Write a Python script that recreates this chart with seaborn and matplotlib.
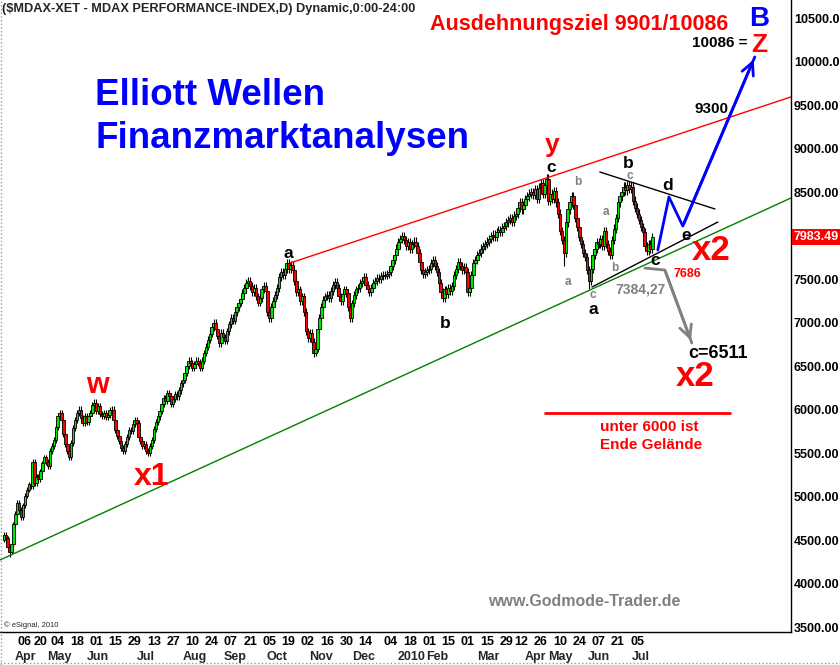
import matplotlib
matplotlib.use("Agg")
import matplotlib.pyplot as plt
import matplotlib.transforms as mtransforms
from matplotlib.lines import Line2D
import numpy as np
import pandas as pd
import seaborn as sns

# daily closes of the MDAX (20 Mar 2009 .. mid Jul 2010)
closes = [
    4560, 4520, 4420, 4360, 4450, 4680, 4800, 4930, 4850, 4760,
    4900, 5010, 5080, 5140, 5120, 5400, 5150, 5230, 5200, 5290,
    5380, 5450, 5400, 5350, 5520, 5580, 5650, 5800, 5920, 5960,
    5880, 5720, 5600, 5520, 5450, 5620, 5790, 5880, 5960, 6000,
    5900, 5850, 5920, 5860, 5930, 5960, 6050, 6080, 5980, 6040,
    5950, 5930, 5960, 5910, 5940, 5990, 6000, 5880, 5760, 5700,
    5640, 5560, 5520, 5600, 5680, 5770, 5750, 5830, 5880, 5850,
    5690, 5640, 5580, 5600, 5520, 5500, 5580, 5650, 5780, 5860,
    5920, 5980, 6060, 6130, 6100, 6190, 6150, 6060, 6120, 6180,
    6150, 6220, 6300, 6340, 6420, 6500, 6560, 6530, 6480, 6520,
    6560, 6540, 6480, 6560, 6650, 6720, 6800, 6870, 6950, 7000,
    6920, 6850, 6760, 6880, 6830, 6790, 6900, 6980, 7050, 7020,
    7120, 7180, 7230, 7270, 7340, 7400, 7460, 7480, 7420, 7350,
    7400, 7300, 7230, 7280, 7380, 7420, 7360, 7120, 7050, 7180,
    7250, 7320, 7400, 7520, 7580, 7550, 7620, 7680, 7620, 7660,
    7600, 7480, 7350, 7380, 7250, 7300, 7120, 6900, 6820, 6880,
    6780, 6650, 6700, 6920, 7050, 7180, 7260, 7300, 7320, 7280,
    7360, 7430, 7470, 7400, 7300, 7250, 7330, 7380, 7340, 7180,
    7050, 7220, 7320, 7380, 7400, 7450, 7480, 7520, 7430, 7380,
    7350, 7400, 7450, 7480, 7510, 7500, 7530, 7550, 7540, 7560,
    7580, 7650, 7720, 7780, 7850, 7920, 7960, 7990, 7950, 7880,
    7920, 7850, 7900, 7930, 7880, 7800, 7700, 7600, 7560, 7580,
    7600, 7620, 7680, 7720, 7650, 7580, 7450, 7350, 7280, 7380,
    7330, 7400, 7360, 7420, 7550, 7620, 7700, 7650, 7600, 7640,
    7580, 7350, 7400, 7550, 7680, 7720, 7780, 7800, 7850, 7880,
    7900, 7930, 7960, 7990, 8010, 7980, 8040, 8060, 8040, 8090,
    8110, 8150, 8180, 8200, 8160, 8230, 8250, 8320, 8380, 8300,
    8350, 8420, 8450, 8480, 8500, 8470, 8530, 8420, 8550, 8600,
    8480, 8580, 8650, 8400, 8480, 8420, 8510, 8380, 8250, 8050,
    7950, 7800, 8150, 8300, 8380, 8450, 8350, 8200, 8100, 7980,
    7900, 7800, 7750, 7600, 7480, 7620, 7780, 7850, 7920, 7900,
    7960, 7880, 8050, 7900, 7820, 7780, 7950, 8080, 8200, 8380,
    8450, 8500, 8560, 8520, 8580, 8540, 8560, 8400, 8320, 8250,
    8180, 8100, 8040, 7880, 7820, 7900, 7850, 7983.49,
]
first_open = 4500
last_price = 7983.49

# notable wick extremes (bar index, price)
spike_idx = [3, 161, 282, 291, 304, 324]
spike_price = [4300, 6600, 8690, 7650, 7384.27, 8620]

holidays = ["2009-04-10", "2009-04-13", "2009-05-01", "2009-12-25",
            "2010-01-01", "2010-04-02", "2010-04-05"]

day_ticks = ["2009-04-06", "2009-04-20", "2009-05-04", "2009-05-18", "2009-06-01",
             "2009-06-15", "2009-06-29", "2009-07-13", "2009-07-27", "2009-08-10",
             "2009-08-24", "2009-09-07", "2009-09-21", "2009-10-05", "2009-10-19",
             "2009-11-02", "2009-11-16", "2009-11-30", "2009-12-14", "2010-01-04",
             "2010-01-18", "2010-02-01", "2010-02-15", "2010-03-01", "2010-03-15",
             "2010-03-29", "2010-04-12", "2010-04-26", "2010-05-10", "2010-05-24",
             "2010-06-07", "2010-06-21", "2010-07-05"]
month_names = ["Apr", "May", "Jun", "Jul", "Aug", "Sep", "Oct", "Nov", "Dec",
               "2010", "Feb", "Mar", "Apr", "May", "Jun", "Jul"]
month_dates = ["2009-04-06", "2009-05-05", "2009-06-02", "2009-07-07", "2009-08-11",
               "2009-09-09", "2009-10-09", "2009-11-11", "2009-12-11", "2010-01-19",
               "2010-02-05", "2010-03-16", "2010-04-21", "2010-05-10", "2010-06-07",
               "2010-07-07"]

price_ticks = [3500, 4000, 4500, 5000, 5500, 6000, 6500, 7000, 7500,
               8500, 9000, 9500, 10000, 10500]

# drawn lines (bar index, price)
red_chan_x, red_chan_y = [148.7, 415], [7684, 9637]
green_chan_x, green_chan_y = [-5, 415], [4240, 8492]
tri_top_x, tri_top_y = [309.7, 369.5], [8730, 8305]
tri_low_x, tri_low_y = [305.6, 371.0], [7408, 8155]
blue_x, blue_y = [339.8, 345.6, 352.8, 390.2], [7833, 8443, 8109, 10052]
gray_x, gray_y = [333.1, 343.5, 357.5], [7626, 7603, 6764]
floor_x, floor_y = [281.2, 377.3], [5960, 5960]

# text labels: (text, bar index, price, colour, size)
labels = [
    ("w", 48.4, 6282, "#ff0000", 21),
    ("x1", 77.0, 5224, "#ff0000", 23),
    ("y", 284.8, 9040, "#ff0000", 19),
    ("x2", 367.5, 7833, "#ff0000", 25),
    ("x2", 359.1, 6374, "#ff0000", 25),
    ("a", 147.6, 7799, "black", 12.5),
    ("b", 229.2, 6994, "black", 12.5),
    ("c", 284.3, 8787, "black", 12.5),
    ("a", 306.1, 7144, "black", 12.5),
    ("b", 324.3, 8830, "black", 12.5),
    ("d", 345.0, 8580, "black", 12.5),
    ("e", 354.6, 8000, "black", 12.5),
    ("c", 338.3, 7718, "black", 12.5),
    ("b", 298.3, 8615, "#808080", 8.5),
    ("a", 293.1, 7466, "#808080", 8.5),
    ("c", 306.1, 7316, "#808080", 8.5),
    ("a", 312.8, 8270, "#808080", 8.5),
    ("b", 317.5, 7626, "#808080", 8.5),
    ("c", 325.3, 8680, "#808080", 8.5),
    ("7686", 355.4, 7557, "#ff0000", 9),
    ("7384,27", 331.0, 7374, "#808080", 10),
    ("c=6511", 371.0, 6649, "black", 13),
    ("unter 6000 ist", 335.2, 5799, "#ff0000", 11),
    ("Ende Gelände", 336.2, 5592, "#ff0000", 11),
    ("9300", 367.9, 9454, "black", 11),
    ("10086 =", 372.1, 10213, "black", 11),
    ("Z", 392.3, 10190, "#ff0000", 19),
    ("B", 392.3, 10489, "#0000ff", 20),
    ("Ausdehnungsziel 9901/10086", 298.8, 10431, "#ff0000", 15.5),
    ("www.Godmode-Trader.de", 301.4, 3799, "#808080", 11.5),
]
headline = ["Elliott Wellen", "Finanzmarktanalysen"]
headline_y = [9500, 9006]
headline_x = 47.4

sns.set_theme(style="white")
plt.rcParams["font.family"] = ["Liberation Sans", "DejaVu Sans"]

dates = pd.bdate_range("2009-03-20", periods=len(closes), freq="C", holidays=holidays)
idx = np.arange(len(closes))
opens = [first_open] + closes[:-1]
o = np.array(opens, dtype=float)
c = np.array(closes, dtype=float)
hi = np.maximum(o, c) * 1.006
lo = np.minimum(o, c) * 0.994
for i, p in zip(spike_idx, spike_price):
    hi[i] = max(hi[i], p)
    lo[i] = min(lo[i], p)

W, H = 840, 665
fig = plt.figure(figsize=(8.4, 6.65), dpi=100)
ax = fig.add_axes([0, 33 / H, 791 / W, 632 / H])

ax.vlines(idx, lo, hi, color="black", lw=0.8, zorder=2)
up = c >= o
ax.bar(idx, np.abs(c - o), bottom=np.minimum(o, c), width=1.3,
       color=np.where(up, "#00e600", "#ff0000"), edgecolor="black", linewidth=0.6, zorder=3)

line_kw = dict(ax=ax, sort=False, estimator=None, legend=False)
sns.lineplot(x=red_chan_x, y=red_chan_y, color="#ff0000", lw=1, **line_kw)
sns.lineplot(x=green_chan_x, y=green_chan_y, color="#008000", lw=1, **line_kw)
sns.lineplot(x=tri_top_x, y=tri_top_y, color="black", lw=1, **line_kw)
sns.lineplot(x=tri_low_x, y=tri_low_y, color="black", lw=1, **line_kw)
sns.lineplot(x=floor_x, y=floor_y, color="#ff0000", lw=2, **line_kw)
sns.lineplot(x=blue_x, y=blue_y, color="#0000ff", lw=2, **line_kw)
sns.lineplot(x=gray_x, y=gray_y, color="#808080", lw=2, **line_kw)
ax.annotate("", xy=(blue_x[-1], blue_y[-1]), xytext=(blue_x[-2], blue_y[-2]),
            arrowprops=dict(arrowstyle="->", color="#0000ff", lw=2, mutation_scale=22))
ax.annotate("", xy=(gray_x[-1], gray_y[-1]), xytext=(gray_x[-2], gray_y[-2]),
            arrowprops=dict(arrowstyle="->", color="#808080", lw=2, mutation_scale=22))

ppd = (637 - 25) / (dates.get_loc(pd.Timestamp("2010-07-05")) - dates.get_loc(pd.Timestamp("2009-04-06")))
x_apr = dates.get_loc(pd.Timestamp("2009-04-06"))
ax.set_xlim(x_apr - 25 / ppd, x_apr + (791 - 25) / ppd)
ax.set_ylim(3443, 10707)

for txt, xi, yi, col, size in labels:
    ax.text(xi, yi, txt, color=col, fontsize=size, fontweight="bold",
            ha="center", va="center", zorder=5)
for txt, yi in zip(headline, headline_y):
    ax.text(headline_x, yi, txt, color="#0000ff", fontsize=26.5, fontweight="bold",
            ha="left", va="baseline", zorder=5)

# axes and ticks
ax.yaxis.tick_right()
ax.set_yticks(price_ticks)
ax.set_yticklabels([f"{v:.2f}" for v in price_ticks], fontweight="bold")
ax.tick_params(axis="y", labelsize=9, length=0, pad=2, colors="black")
tick_pos = [dates.get_loc(pd.Timestamp(d)) for d in day_ticks]
ax.set_xticks(tick_pos)
ax.set_xticklabels([pd.Timestamp(d).strftime("%d") for d in day_ticks], fontweight="bold")
ax.tick_params(axis="x", labelsize=9, length=0, pad=3, colors="black")
trans = ax.get_xaxis_transform()
for name, d in zip(month_names, month_dates):
    ax.text(dates.get_loc(pd.Timestamp(d)), -0.0396, name, transform=trans,
            ha="center", va="center", fontsize=9, fontweight="bold")

for side in ["left", "top"]:
    ax.spines[side].set_visible(False)
for side in ["right", "bottom"]:
    ax.spines[side].set_color("black")
    ax.spines[side].set_linewidth(1)
ax.grid(False)

box_trans = mtransforms.blended_transform_factory(ax.transAxes, ax.transData)
ax.text(1.003, last_price, f"{last_price:.2f}", transform=box_trans, ha="left", va="center",
        color="white", fontsize=9, fontweight="bold",
        bbox=dict(facecolor="#ff0000", edgecolor="none", pad=1.2), clip_on=False)

fig.text(2 / W, 1 - 9 / H, "($MDAX-XET - MDAX PERFORMANCE-INDEX,D) Dynamic,0:00-24:00",
         ha="left", va="center", fontsize=9.2, fontweight="bold")
ax.text(0.005, 0.011, "© eSignal, 2010", transform=ax.transAxes, fontsize=5.5,
        ha="left", va="center")
fig.add_artist(Line2D([1 / W, 1 / W], [0, 1], color="#999999", ls=":", lw=1))
fig.add_artist(Line2D([0, 1], [2 / H, 2 / H], color="#999999", ls=":", lw=1))

fig.savefig("out.png", dpi=100)
plt.close(fig)
